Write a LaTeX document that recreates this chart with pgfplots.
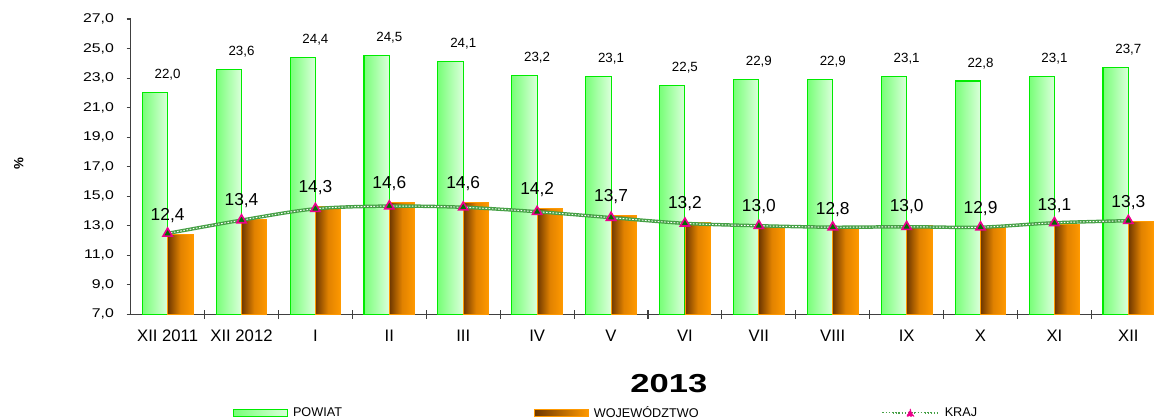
\documentclass[border=0pt]{standalone}
\usepackage{fontspec}
\setmainfont{Liberation Sans}
\usepackage{pgfplots}
\usepackage{pgfplotstable}
\pgfplotsset{compat=1.18}
\definecolor{barGreen}{RGB}{0,235,0}
\definecolor{greenL}{RGB}{120,255,120}
\definecolor{greenR}{RGB}{220,255,220}
\definecolor{orMain}{RGB}{255,153,0}
\definecolor{orDark}{RGB}{110,55,0}
\definecolor{orMid}{RGB}{225,130,0}
\definecolor{krajBand}{RGB}{70,160,70}
\definecolor{krajDark}{RGB}{0,110,0}
\definecolor{axisGray}{RGB}{64,64,64}
\pgfkeys{/pgf/number format/.cd, use comma, fixed, fixed zerofill, precision=1, assume math mode=true}

\pgfplotstableread{
x powiat woj kraj
0 22.0 12.4 12.48
1 23.6 13.4 13.38
2 24.4 14.3 14.15
3 24.5 14.6 14.33
4 24.1 14.6 14.25
5 23.2 14.2 13.95
6 23.1 13.7 13.55
7 22.5 13.2 13.16
8 22.9 13.0 13.00
9 22.9 12.8 12.90
10 23.1 13.0 12.93
11 22.8 12.9 12.90
12 23.1 13.1 13.20
13 23.7 13.3 13.34
}\data

\pgfplotsset{
  greenbar/.style={ybar, forget plot, bar width=19pt, bar shift=-9.5pt, draw=barGreen, line width=0.8pt,
    left color=greenL, right color=greenR,
    nodes near coords,
    nodes near coords style={font=\fontsize{10}{12}\selectfont, anchor=base, yshift=10.5pt, inner sep=0pt, text=black}},
  orangebar/.style={ybar, forget plot, bar width=19pt, bar shift=9.5pt, draw=orMain, line width=0.6pt,
    left color=orDark, right color=orMain, middle color=orMid,
    nodes near coords,
    nodes near coords style={font=\fontsize{13}{15}\selectfont, anchor=base, yshift=10.5pt, inner sep=0pt, text=black}},
}

\begin{document}
\begin{tikzpicture}
\begin{axis}[
  at={(0pt,0pt)}, anchor=south west,
  scale only axis, width=767.5pt, height=221.5pt,
  xmin=-0.5, xmax=13.347, ymin=7, ymax=27,
  axis lines*=left,
  axis line style={axisGray, line width=1.1pt},
  clip=false,
  tick align=outside,
  major tick length=3pt,
  minor tick length=6.75pt,
  ytick={7,9,...,27},
  xtick={0,...,13},
  xticklabels={{XII 2011},{XII 2012},I,II,III,IV,V,VI,VII,VIII,IX,X,XI,XII},
  minor xtick={0.5,1.5,...,12.5},
  major x tick style={draw=none},
  minor x tick style={axisGray, line width=0.8pt, yshift=3.375pt},
  ytick style={axisGray, line width=0.8pt},
  yticklabel style={font=\fontsize{9.5}{11}\selectfont, xscale=1.25, anchor=east, inner sep=0pt, xshift=-7.5pt},
  xticklabel style={font=\fontsize{12.5}{14}\selectfont, anchor=north, inner sep=0pt, yshift=-8.25pt},
  xlabel={2013},
  xlabel style={at={(axis description cs:0.526,-0.2336)}, anchor=center, font=\bfseries\fontsize{19.5}{22}\selectfont, xscale=1.33, inner sep=0pt},
  ylabel={\%},
  ylabel style={at={(axis description cs:-0.1092,0.5106)}, anchor=center, font=\bfseries\fontsize{10}{12}\selectfont, inner sep=0pt},
  legend columns=-1,
  legend style={at={(axis description cs:0.09997,-0.3341)}, anchor=west, draw=none, fill=none, inner sep=0pt, outer sep=0pt, column sep=0pt, font=\fontsize{9.5}{11}\selectfont, nodes={inner sep=0pt}},
  legend cell align=left,
]
\addlegendimage{legend image code/.code={\draw[draw=barGreen, line width=0.8pt, left color=greenL, right color=greenR] (0pt,-2.6pt) rectangle (40.5pt,2.6pt);}}
\addlegendentry{\hspace{3.75pt}\makebox[180.75pt][l]{POWIAT}}
\addlegendimage{legend image code/.code={\draw[draw=orMain, line width=0.6pt, left color=orDark, right color=orMain] (0pt,-2.6pt) rectangle (40.5pt,2.6pt);}}
\addlegendentry{\hspace{3.75pt}\makebox[215.25pt][l]{WOJEWÓDZTWO}}

\pgfplotsinvokeforeach{0,...,13}{
  \addplot[greenbar, restrict x to domain=#1:#1] table[x=x, y=powiat]{\data};
  \addplot[orangebar, restrict x to domain=#1:#1] table[x=x, y=woj]{\data};
}

\addplot[forget plot, smooth, draw=krajBand, line width=2.6pt] table[x=x, y=kraj]{\data};
\addplot[smooth, draw=white, line width=0.7pt, dash pattern=on 1.2pt off 1.2pt,
  mark=triangle*, mark size=4pt,
  mark options={solid, fill=krajDark, draw=magenta, line width=1.2pt},
  legend image code/.code={
    \draw[krajBand, line width=2.2pt] (0pt,0pt) -- (42pt,0pt);
    \draw[white, line width=0.7pt, dash pattern=on 1.1pt off 1.1pt] (0pt,0pt) -- (42pt,0pt);
    \fill[magenta] (18.5pt,-2.3pt) -- (23.5pt,-2.3pt) -- (21pt,2.6pt) -- cycle;}
] table[x=x, y=kraj]{\data};
\addlegendentry{\hspace{3.75pt}KRAJ}
\end{axis}
\pgfresetboundingbox
\path[use as bounding box] (-98pt,-78.5pt) rectangle (767.5pt,235.75pt);
\end{tikzpicture}
\end{document}
